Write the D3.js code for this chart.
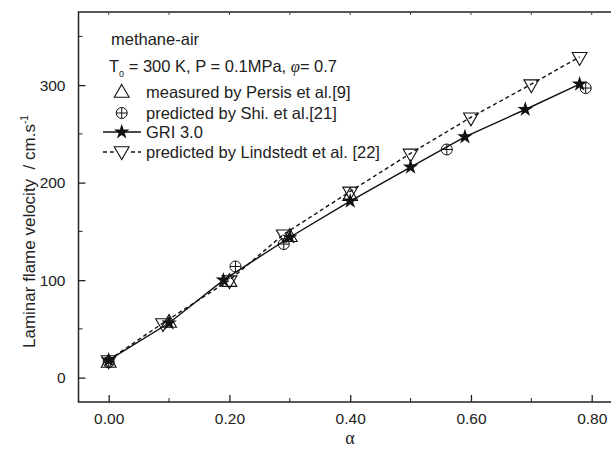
<!DOCTYPE html>
<html lang="en">
<head>
<meta charset="UTF-8">
<title>Laminar flame velocity vs alpha</title>
<script src="https://d3js.org/d3.v7.min.js"></script>
<style>
  body { margin: 0; background: #fff; }
  svg { display: block; font-family: "Liberation Sans", Arial, sans-serif; }
</style>
</head>
<body>
<svg width="611" height="449"></svg>
<script>
// ---- data ----
const griAlpha   = [0, 0.10, 0.19, 0.30, 0.40, 0.50, 0.59, 0.69, 0.78];
const griVel     = [18, 56, 100, 144, 181, 216, 247, 275, 301];

const lindAlpha  = [0, 0.09, 0.20, 0.29, 0.40, 0.50, 0.60, 0.70, 0.78];
const lindVel    = [18, 56, 100, 147, 191, 230, 267, 301, 329];

const persisAlpha = [0, 0.10, 0.20, 0.30, 0.40];
const persisVel   = [15, 56, 98, 144, 186];

const shiAlpha   = [0, 0.21, 0.29, 0.56, 0.79];
const shiVel     = [16, 114, 137, 234, 297];

const xMajor = [0, 0.2, 0.4, 0.6, 0.8];
const xMinor = [0.1, 0.3, 0.5, 0.7];
const yMajor = [0, 100, 200, 300];
const yMinor = [50, 150, 250, 350];

const svg = d3.select("svg");

const x = d3.scaleLinear().domain([-0.05, 0.85]).range([78.5, 621.9]);
const y = d3.scaleLinear().domain([-25, 375]).range([402, 12]);

const zip = (a, b) => a.map((d, i) => [d, b[i]]);

// frame
svg.append("rect")
  .attr("x", x(-0.05)).attr("y", y(375))
  .attr("width", x(0.85) - x(-0.05)).attr("height", y(-25) - y(375))
  .attr("fill", "none").attr("stroke", "#222").attr("stroke-width", 1.5);

// axes with inward ticks
const fmt = d3.format(".2f");
const bottom = svg.append("g").attr("transform", `translate(0,${y(-25)})`)
  .call(d3.axisBottom(x).tickValues(xMajor).tickSize(-7).tickPadding(11).tickFormat(fmt));
bottom.append("g").selectAll("line").data(xMinor).join("line")
  .attr("x1", d => x(d)).attr("x2", d => x(d)).attr("y1", 0).attr("y2", -4)
  .attr("stroke", "#222");

const left = svg.append("g").attr("transform", `translate(${x(-0.05)},0)`)
  .call(d3.axisLeft(y).tickValues(yMajor).tickSize(-7).tickPadding(13));
left.append("g").selectAll("line").data(yMinor).join("line")
  .attr("y1", d => y(d)).attr("y2", d => y(d)).attr("x1", 0).attr("x2", 4)
  .attr("stroke", "#222");

svg.append("g").selectAll("line").data(xMajor.concat(xMinor)).join("line")
  .attr("x1", d => x(d)).attr("x2", d => x(d))
  .attr("y1", y(375)).attr("y2", y(375) + 3)
  .attr("stroke", "#444");

[bottom, left].forEach(g => {
  g.select(".domain").remove();
  g.selectAll(".tick line").attr("stroke", "#222").attr("stroke-width", 1.3);
  g.selectAll(".tick text").attr("font-size", 15.5).attr("fill", "#222")
    .attr("font-family", "Liberation Sans, Arial, sans-serif");
});

// lines
const line = d3.line().x(d => x(d[0])).y(d => y(d[1]));

svg.append("path").datum(zip(lindAlpha, lindVel))
  .attr("d", line).attr("fill", "none").attr("stroke", "#111")
  .attr("stroke-width", 1.4).attr("stroke-dasharray", "4,3");

svg.append("path").datum(zip(griAlpha, griVel))
  .attr("d", line).attr("fill", "none").attr("stroke", "#111")
  .attr("stroke-width", 1.4);

// marker helpers
const triUp = d3.symbol(d3.symbolTriangle, 95)();
const star = d3.symbol(d3.symbolStar, 75)();

function drawTri(g, cx, cy, down) {
  g.append("path").attr("d", triUp)
    .attr("transform", `translate(${cx},${cy})` + (down ? " rotate(180)" : ""))
    .attr("fill", "none").attr("stroke", "#111").attr("stroke-width", 1.1);
}
function drawStar(g, cx, cy) {
  g.append("path").attr("d", star).attr("transform", `translate(${cx},${cy})`)
    .attr("fill", "#111");
}
function drawOplus(g, cx, cy) {
  const r = 5.5;
  g.append("circle").attr("cx", cx).attr("cy", cy).attr("r", r)
    .attr("fill", "none").attr("stroke", "#111").attr("stroke-width", 1);
  g.append("line").attr("x1", cx - r).attr("x2", cx + r).attr("y1", cy).attr("y2", cy)
    .attr("stroke", "#111").attr("stroke-width", 1);
  g.append("line").attr("x1", cx).attr("x2", cx).attr("y1", cy - r).attr("y2", cy + r)
    .attr("stroke", "#111").attr("stroke-width", 1);
}

const marks = svg.append("g");
zip(persisAlpha, persisVel).forEach(d => drawTri(marks, x(d[0]), y(d[1]), false));
zip(shiAlpha, shiVel).forEach(d => drawOplus(marks, x(d[0]), y(d[1])));
zip(lindAlpha, lindVel).forEach(d => drawTri(marks, x(d[0]), y(d[1]), true));
zip(griAlpha, griVel).forEach(d => drawStar(marks, x(d[0]), y(d[1])));

// legend / annotation
const leg = svg.append("g").attr("font-size", 16.5).attr("fill", "#222");
leg.append("text").attr("x", 111).attr("y", 45).text("methane-air");

const t0 = leg.append("text").attr("x", 109).attr("y", 72);
t0.append("tspan").text("T");
t0.append("tspan").attr("font-size", 9).attr("dy", 5).text("0");
t0.append("tspan").attr("dy", -5).text(" = 300 K, P = 0.1MPa, ");
t0.append("tspan").attr("font-family", "Liberation Serif, serif").attr("font-style", "italic").text("\u03c6");
t0.append("tspan").text("= 0.7");

const mx = 121.7, tx = 146;
drawTri(leg, mx, 93, false);
leg.append("text").attr("x", tx).attr("y", 98).text("measured by Persis et al.[9]");

drawOplus(leg, mx, 113);
leg.append("text").attr("x", tx).attr("y", 118.5).text("predicted by Shi. et al.[21]");

leg.append("line").attr("x1", 103).attr("x2", 141).attr("y1", 132).attr("y2", 132)
  .attr("stroke", "#111").attr("stroke-width", 1.4);
drawStar(leg, mx, 132);
leg.append("text").attr("x", tx).attr("y", 137.5).text("GRI 3.0");

leg.append("line").attr("x1", 103).attr("x2", 141).attr("y1", 152).attr("y2", 152)
  .attr("stroke", "#111").attr("stroke-width", 1.4).attr("stroke-dasharray", "4,3");
leg.append("rect").attr("x", mx - 8).attr("y", 145).attr("width", 16).attr("height", 12).attr("fill", "#fff");
drawTri(leg, mx, 151, true);
leg.append("text").attr("x", tx).attr("y", 158).text("predicted by Lindstedt et al. [22]");

// axis titles
const yt = svg.append("text").attr("transform", "translate(35,348) rotate(-90)")
  .attr("font-size", 17).attr("fill", "#222");
yt.append("tspan").text("Laminar flame velocity\u00a0\u00a0/ cm.s");
yt.append("tspan").attr("font-size", 10).attr("dy", -7).text("-1");

svg.append("text").attr("x", 350).attr("y", 444).attr("text-anchor", "middle")
  .attr("font-family", "Liberation Serif, serif").attr("font-size", 18).attr("fill", "#222")
  .text("\u03b1");
</script>
</body>
</html>
